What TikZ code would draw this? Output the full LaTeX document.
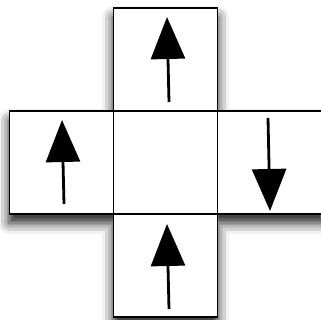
\documentclass[tikz,border=0pt]{standalone}
\usetikzlibrary{arrows.meta, positioning, shadows.blur}

\begin{document}
\begin{tikzpicture}[x=1pt, y=-1pt,
    cell/.style={draw, line width=1.3pt, rectangle, minimum width=104pt, minimum height=103pt, outer sep=0pt, inner sep=0pt, fill=white},
    spin/.style={line width=2.8pt, -{Triangle[length=42pt, width=34pt, fill=black]}}
]
\useasboundingbox (0,0) rectangle (321,320);

% Shadow of the cross
\begin{scope}
\fill[white, blur shadow={shadow xshift=0pt, shadow yshift=-9pt, shadow blur radius=11pt, shadow opacity=90}]
  (113,8) -- (218,8) -- (218,111) -- (325,111) -- (325,214) -- (218,214) -- (218,316)
  -- (113,316) -- (113,214) -- (9,214) -- (9,111) -- (113,111) -- cycle;
\end{scope}

% Squares
\node[cell] (center) at (165.5,162.5) {};
\node[cell, above=0pt of center] (top) {};
\node[cell, below=0pt of center] (bottom) {};
\node[cell, left=0pt of center] (left) {};
\node[cell, right=0pt of center] (right) {};

% Arrows
\coordinate (topTail) at (169,102);
\coordinate (topTip) at (167,17);
\coordinate (leftTail) at (64,204);
\coordinate (leftTip) at (62,120);
\coordinate (rightTail) at (268,118);
\coordinate (rightTip) at (270,211);
\coordinate (bottomTail) at (169,309);
\coordinate (bottomTip) at (167,224);

\draw[spin] (topTail) -- (topTip);
\draw[spin] (leftTail) -- (leftTip);
\draw[spin] (rightTail) -- (rightTip);
\draw[spin] (bottomTail) -- (bottomTip);

\end{tikzpicture}
\end{document}
